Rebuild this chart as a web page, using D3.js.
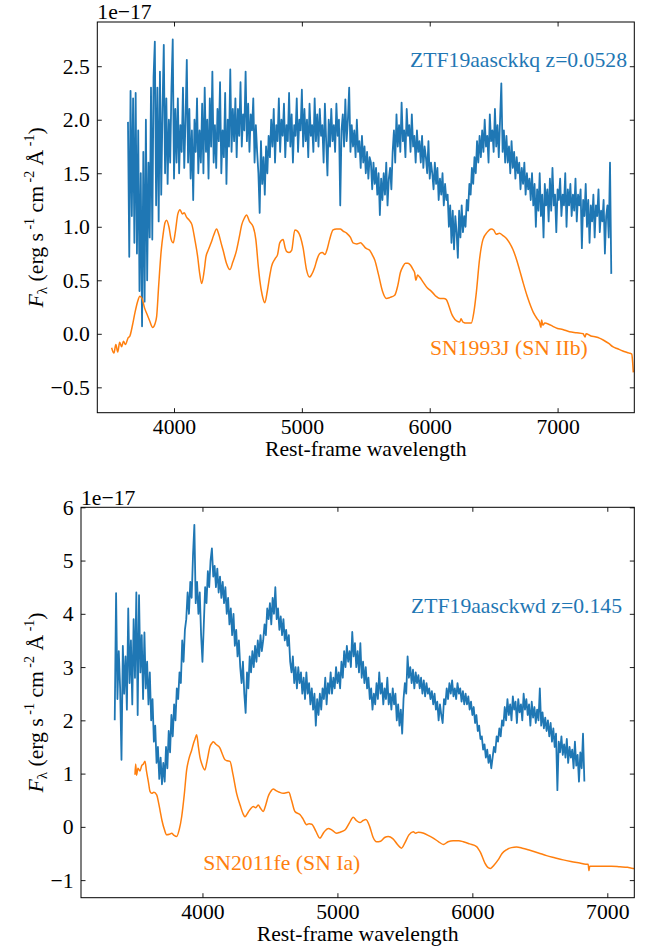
<!DOCTYPE html>
<html><head><meta charset="utf-8">
<script src="https://cdn.jsdelivr.net/npm/d3@7"></script>
<style>body{margin:0;background:#fff} svg text{font-family:"Liberation Serif","Times New Roman",serif}</style>
</head><body><svg id="c" width="652" height="952"></svg>
<script>
// ---------- DATA ----------
// Top panel: ZTF19aasckkq (blue), wavelength grid start/step
const topBlueStart = 3640, topBlueStep = 10;
const topBlueFlux = [
1.98,0.72,2.27,1.1,2.2,0.85,
2.25,0.75,1.9,0.4,1.5,0.07,1.7,0.3,2.0,0.5,
1.6,0.9,2.3,0.88,2.4,2.73,1.2,2.3,1.05,2.45,
1.3,2.1,2.70,1.5,2.2,1.4,2.0,1.6,2.3,2.75,
1.45,2.1,1.6,2.2,1.5,1.95,1.7,2.3,1.55,2.0,
2.56,1.6,2.1,1.45,1.9,1.25,2.0,1.7,2.2,1.5,
1.9,1.6,2.15,1.5,2.3,1.7,2.0,1.45,2.2,1.75,
2.45,1.6,1.95,1.55,2.1,1.8,2.35,1.5,1.9,1.65,
2.25,1.4,2.0,1.75,2.47,1.7,2.1,1.8,2.2,1.65,
2.1,1.85,2.35,1.75,2.05,1.9,2.45,1.8,2.15,1.7,
2.05,1.9,2.2,1.6,1.95,1.7,1.5,1.13,1.8,1.4,
1.65,1.3,1.75,1.5,1.85,1.65,2.0,1.75,2.1,1.6,
1.95,1.8,2.2,1.7,2.0,1.85,2.15,1.65,1.95,1.8,
2.25,1.75,2.05,1.6,1.95,1.85,2.2,1.7,2.0,1.9,
2.28,1.75,2.1,1.8,2.0,1.65,2.15,1.85,1.95,1.7,
2.2,1.8,2.05,1.75,2.1,1.85,1.95,1.6,2.15,1.8,
1.48,2.0,1.75,2.1,1.8,1.95,1.7,2.15,1.85,2.0,
1.2,1.9,2.05,1.75,2.19,1.8,2.0,2.3,1.7,1.95,
1.75,1.9,1.65,2.0,1.7,1.8,1.55,1.85,1.6,1.75,
1.5,1.7,1.45,1.65,1.6,1.35,1.6,1.4,1.55,1.3,
1.5,1.11,1.45,1.25,1.5,1.3,1.6,1.2,1.45,1.55,
1.35,1.7,1.9,1.6,2.05,1.75,1.95,1.7,2.16,1.8,
1.9,1.65,2.1,1.85,1.95,1.7,2.05,1.75,1.85,1.6,
1.9,1.7,1.8,1.6,1.85,1.55,1.75,1.65,1.5,1.8,
1.45,1.6,1.5,1.35,1.6,1.4,1.55,1.25,1.45,1.3,
1.5,1.2,1.4,1.25,1.3,1.0,1.2,0.85,1.15,0.79,
1.1,0.95,0.71,1.15,0.9,1.2,0.95,1.1,1.0,1.25,
1.15,1.4,1.3,1.55,1.4,1.65,1.5,1.8,1.6,1.85,
1.65,1.9,1.7,2.0,1.75,1.85,1.6,2.05,1.8,1.9,
1.7,2.1,1.75,1.95,1.65,2.0,2.34,1.7,1.9,1.6,
1.85,1.6,1.75,1.5,1.8,1.55,1.7,1.45,1.65,1.5,
1.6,1.35,1.55,1.4,1.6,1.3,1.5,1.35,1.45,1.25,
1.5,1.2,1.4,1.0,1.35,1.15,1.5,1.1,1.3,0.9,
1.4,1.2,1.35,1.05,1.45,1.15,1.55,1.2,1.3,0.95,
1.35,1.25,1.45,1.1,1.3,1.2,1.5,1.0,1.35,1.2,
1.4,1.1,1.3,1.15,1.45,1.05,1.3,1.2,1.35,0.8,
1.25,1.1,1.4,1.0,1.25,0.85,1.2,1.05,1.3,0.9,
1.2,1.1,1.35,0.95,1.15,1.05,1.25,0.75,1.1,1.2,
0.9,1.6,0.56];

// Top panel: SN1993J template (orange)
const topOrangeWave = [3512,3530,3545,3560,3575,3590,3605,3620,3640,3655,3675,3695,3715,3733,3750,3770,3790,3810,3833,3850,3864,3880,3900,3916,3930,3942,3960,3978,3994,4010,4030,4047,4065,4080,4098,4120,4140,4163,4185,4200,4216,4235,4250,4267,4290,4310,4333,4350,4370,4384,4410,4437,4460,4489,4510,4530,4550,4567,4590,4619,4640,4660,4671,4690,4710,4730,4750,4763,4790,4810,4827,4853,4870,4880,4900,4920,4945,4965,4990,5010,5036,5060,5075,5100,5120,5140,5160,5180,5200,5217,5244,5270,5300,5322,5350,5380,5400,5430,5460,5478,5500,5530,5550,5570,5600,5630,5661,5690,5726,5750,5770,5791,5810,5830,5850,5870,5882,5892,5905,5921,5950,5980,6000,6026,6050,6080,6110,6130,6150,6170,6182,6210,6235,6245,6260,6290,6325,6345,6364,6390,6416,6450,6481,6500,6520,6546,6570,6600,6624,6650,6680,6702,6730,6760,6780,6810,6840,6858,6870,6875,6885,6900,6930,6963,7000,7040,7093,7150,7200,7215,7223,7260,7300,7327,7360,7400,7431,7470,7510,7561,7580,7586,7592];
const topOrangeFlux = [-0.13,-0.18,-0.10,-0.17,-0.08,-0.12,-0.07,-0.10,-0.04,-0.02,0.08,0.20,0.30,0.35,0.33,0.24,0.18,0.12,0.06,0.09,0.16,0.45,0.78,0.94,1.04,1.06,1.00,0.88,0.85,0.95,1.12,1.16,1.12,1.13,1.09,1.06,1.02,0.88,0.72,0.57,0.47,0.58,0.72,0.78,0.85,0.92,0.98,0.93,0.84,0.78,0.66,0.60,0.67,0.78,0.90,1.02,1.08,1.11,1.05,1.00,0.88,0.62,0.50,0.36,0.29,0.40,0.55,0.63,0.70,0.74,0.85,0.88,0.80,0.77,0.76,0.78,0.97,0.96,0.90,0.80,0.60,0.53,0.55,0.62,0.70,0.75,0.76,0.74,0.80,0.88,0.97,0.98,0.98,0.96,0.94,0.90,0.85,0.84,0.85,0.83,0.80,0.78,0.74,0.69,0.55,0.40,0.33,0.34,0.36,0.45,0.57,0.63,0.66,0.66,0.64,0.60,0.57,0.50,0.55,0.53,0.48,0.43,0.41,0.38,0.35,0.33,0.33,0.32,0.26,0.19,0.16,0.12,0.11,0.14,0.11,0.10,0.10,0.20,0.38,0.70,0.88,0.95,0.98,0.97,0.93,0.94,0.92,0.89,0.85,0.79,0.69,0.60,0.48,0.36,0.29,0.20,0.14,0.11,0.06,0.13,0.08,0.10,0.09,0.07,0.05,0.04,0.02,0.01,0.00,-0.03,0.00,-0.02,-0.03,-0.04,-0.06,-0.09,-0.12,-0.14,-0.16,-0.18,-0.19,-0.25,-0.36];

// Bottom panel: ZTF19aasckwd (blue)
const botBlueStart = 3350, botBlueStep = 10;
const botBlueFlux = [
2.0,4.39,2.4,3.3,2.6,
1.26,3.4,2.5,3.2,2.2,4.1,2.7,3.5,2.3,3.9,
2.8,4.4,2.1,4.35,2.9,3.6,2.4,3.65,2.6,3.1,
2.3,2.9,2.0,2.4,1.6,1.9,1.2,1.5,0.9,1.3,
0.8,1.2,0.85,1.5,1.1,1.8,1.4,2.1,1.7,2.3,
2.0,2.6,2.4,2.9,2.7,3.5,3.1,3.7,3.9,4.4,
4.0,4.6,4.3,5.1,5.67,4.2,4.6,4.0,4.4,3.6,
3.1,3.8,4.5,4.2,4.8,4.5,5.0,5.23,4.7,4.9,
4.5,4.85,4.4,4.7,4.3,4.6,4.2,4.5,4.0,4.3,
3.8,4.1,3.6,4.0,3.4,3.7,3.2,3.5,3.0,2.7,
3.1,2.5,2.14,2.9,2.6,3.2,2.9,3.3,3.0,3.4,
3.1,3.5,3.2,3.6,3.3,3.5,3.8,3.6,4.1,3.9,
4.2,3.8,4.3,4.0,4.5,3.9,4.1,3.7,3.95,3.6,
3.9,3.5,3.7,3.4,3.6,3.1,2.9,3.2,2.7,3.0,
2.6,3.0,2.7,2.9,2.5,2.8,2.4,2.9,2.5,2.7,
2.3,2.6,2.2,2.5,1.9,2.4,2.1,2.5,2.2,2.6,
2.4,2.8,2.3,2.7,2.5,2.9,2.5,2.8,2.6,3.0,
2.7,2.9,2.6,3.1,2.8,3.3,3.0,3.4,3.1,3.3,
3.0,3.66,3.2,3.45,3.0,3.3,2.9,3.45,2.8,3.1,
2.7,3.0,2.6,2.8,2.4,2.6,2.2,2.5,2.3,2.7,
2.4,2.9,2.5,2.7,2.3,2.6,2.4,2.8,2.3,2.5,
2.2,2.6,2.3,2.5,2.0,2.3,1.9,2.2,1.75,2.4,
2.7,2.5,3.2,2.8,3.0,2.7,2.95,2.6,2.9,2.7,
2.85,2.6,2.8,2.5,2.75,2.45,2.7,2.5,2.6,2.4,
2.55,2.3,2.5,2.2,2.35,2.0,2.3,2.1,1.95,2.4,
2.3,2.6,2.4,2.7,2.5,2.75,2.45,2.6,2.4,2.7,
2.5,2.6,2.35,2.55,2.3,2.5,2.3,2.45,2.2,2.35,
2.1,2.25,1.95,2.1,1.8,1.9,1.65,1.7,1.45,1.55,
1.3,1.45,1.2,1.35,1.1,1.3,1.5,1.4,1.7,1.6,
1.85,1.7,2.0,1.9,2.25,2.0,2.4,2.1,2.3,2.0,
2.45,2.2,2.35,1.95,2.4,2.15,2.3,2.0,2.5,2.2,
2.4,2.1,2.3,1.9,2.35,2.05,2.25,1.95,2.2,2.0,
2.6,1.9,2.15,1.85,2.05,1.8,2.0,1.7,1.95,1.6,
1.85,1.5,1.75,0.69,1.6,1.4,1.7,1.35,1.55,1.3,
1.65,1.2,1.5,1.3,1.45,1.1,1.6,1.15,1.35,0.85,
1.4,1.1,1.75,0.85];

// Bottom panel: SN2011fe template (orange)
const botOrangeWave = [3500,3505,3512,3522,3537,3550,3562,3574,3585,3599,3612,3624,3640,3661,3675,3685,3700,3718,3735,3755,3772,3790,3809,3828,3846,3865,3883,3900,3920,3935,3945,3957,3970,3982,3994,4018,4035,4056,4070,4080,4100,4130,4150,4167,4185,4204,4225,4253,4280,4300,4315,4340,4360,4376,4395,4413,4430,4450,4470,4487,4505,4524,4545,4570,4599,4620,4640,4660,4685,4722,4745,4772,4790,4810,4840,4870,4900,4932,4960,4994,5020,5056,5090,5117,5140,5167,5190,5211,5240,5265,5290,5320,5350,5377,5410,5445,5475,5500,5530,5562,5580,5600,5640,5680,5710,5750,5785,5820,5858,5900,5933,5980,6031,6060,6093,6120,6135,6160,6191,6220,6253,6290,6327,6370,6426,6490,6550,6610,6673,6730,6796,6840,6858,6864,6870,6900,6969,7030,7093,7150,7191,7200];
const botOrangeFlux = [0.98,1.18,0.97,1.10,1.05,1.15,1.18,1.23,1.05,0.85,0.66,0.63,0.65,0.60,0.45,0.32,0.12,-0.05,-0.15,-0.14,-0.12,-0.16,-0.18,-0.05,0.19,0.60,1.07,1.28,1.44,1.58,1.65,1.73,1.50,1.30,1.19,1.07,1.25,1.51,1.57,1.60,1.55,1.48,1.35,1.26,1.24,1.23,1.00,0.63,0.40,0.25,0.19,0.28,0.35,0.38,0.36,0.41,0.35,0.29,0.42,0.57,0.66,0.71,0.68,0.65,0.63,0.64,0.65,0.50,0.29,0.23,0.15,0.04,0.06,0.05,-0.08,-0.21,-0.10,-0.03,-0.06,-0.12,-0.10,-0.06,0.08,0.18,0.12,0.08,0.12,0.14,0.00,-0.20,-0.28,-0.27,-0.20,-0.18,-0.22,-0.33,-0.40,-0.30,-0.15,-0.09,-0.12,-0.10,-0.12,-0.17,-0.21,-0.28,-0.33,-0.28,-0.26,-0.26,-0.28,-0.32,-0.37,-0.48,-0.68,-0.77,-0.78,-0.72,-0.62,-0.50,-0.43,-0.39,-0.38,-0.40,-0.44,-0.49,-0.54,-0.58,-0.62,-0.65,-0.68,-0.70,-0.70,-0.82,-0.74,-0.74,-0.74,-0.74,-0.75,-0.76,-0.78,-0.78];

// Ticks and labels
const topXTicks = [4000,5000,6000,7000];
const topYTicks = [-0.5,0,0.5,1,1.5,2,2.5];
const botXTicks = [4000,5000,6000,7000];
const botYTicks = [-1,0,1,2,3,4,5,6];
const topBlueLabel = "ZTF19aasckkq z=0.0528";
const topOrangeLabel = "SN1993J (SN IIb)";
const botBlueLabel = "ZTF19aasckwd z=0.145";
const botOrangeLabel = "SN2011fe (SN Ia)";
const xLabel = "Rest-frame wavelength";
const offsetLabel = "1e\u221217";

// ---------- DRAWING ----------
const BLUE = "#1f77b4", ORANGE = "#ff7f0e";
const FS = 21.7;
const FONT = "'Liberation Serif','Times New Roman',serif";
const svg = d3.select("#c");

function drawPanel(cfg, idx) {
  const x = d3.scaleLinear().domain(cfg.xd).range([cfg.l, cfg.r]);
  const y = d3.scaleLinear().domain(cfg.yd).range([cfg.b, cfg.t]);
  const g = svg.append("g");
  const cid = "clip" + idx;
  svg.append("defs").append("clipPath").attr("id", cid)
    .append("rect").attr("x", cfg.l).attr("y", cfg.t).attr("width", cfg.r - cfg.l).attr("height", cfg.b - cfg.t);

  const blue = cfg.blueFlux.map((v, i) => [cfg.blueStart + i * cfg.blueStep, v]);
  const orange = cfg.orWave.map((w, i) => [w, cfg.orFlux[i]]);
  const lineL = d3.line().x(d => x(d[0])).y(d => y(d[1]));
  const lineS = d3.line().x(d => x(d[0])).y(d => y(d[1])).curve(d3.curveMonotoneX);
  const plot = g.append("g").attr("clip-path", `url(#${cid})`);
  plot.append("path").datum(blue).attr("d", lineL).attr("fill", "none")
    .attr("stroke", BLUE).attr("stroke-width", 1.8).attr("stroke-linejoin", "round");
  plot.append("path").datum(orange).attr("d", lineS).attr("fill", "none")
    .attr("stroke", ORANGE).attr("stroke-width", 1.5).attr("stroke-linejoin", "round");

  const styleAxis = s => {
    s.select(".domain").remove();
    s.attr("font-family", FONT).attr("font-size", FS);
    s.selectAll("text").attr("font-family", FONT).attr("font-size", FS).attr("fill", "#000");
    s.selectAll("line").attr("stroke", "#000").attr("stroke-width", 0.9);
  };
  g.append("g").attr("transform", `translate(0,${cfg.b})`)
    .call(d3.axisBottom(x).tickValues(cfg.xt).tickSize(-4.5).tickPadding(5.5).tickFormat(d3.format("d"))).call(styleAxis);
  g.append("g").attr("transform", `translate(0,${cfg.t})`)
    .call(d3.axisTop(x).tickValues(cfg.xt).tickSize(-4.5).tickFormat("")).call(styleAxis);
  g.append("g").attr("transform", `translate(${cfg.l},0)`)
    .call(d3.axisLeft(y).tickValues(cfg.yt).tickSize(-4.5).tickPadding(7.5).tickFormat(d3.format(cfg.yf))).call(styleAxis);
  g.append("g").attr("transform", `translate(${cfg.r},0)`)
    .call(d3.axisRight(y).tickValues(cfg.yt).tickSize(-4.5).tickFormat("")).call(styleAxis);

  g.append("rect").attr("x", cfg.l).attr("y", cfg.t).attr("width", cfg.r - cfg.l).attr("height", cfg.b - cfg.t)
    .attr("fill", "none").attr("stroke", "#000").attr("stroke-width", 1);

  g.append("text").attr("x", cfg.l).attr("y", cfg.t - 2.7).attr("font-size", FS).text(offsetLabel);
  g.append("text").attr("x", (cfg.l + cfg.r) / 2).attr("y", cfg.b + 43.5).attr("text-anchor", "middle")
    .attr("font-size", FS).text(xLabel);
  const yl = g.append("text").attr("transform", `translate(${cfg.ylx},${(cfg.t + cfg.b) / 2}) rotate(-90)`)
    .attr("text-anchor", "middle").attr("font-size", FS);
  yl.append("tspan").attr("font-style", "italic").text("F");
  yl.append("tspan").attr("font-size", 15).attr("dy", 4).text("\u03bb");
  yl.append("tspan").attr("dy", -4).text(" (erg s");
  yl.append("tspan").attr("font-size", 14).attr("dy", -9).text(" -1");
  yl.append("tspan").attr("dy", 9).text(" cm");
  yl.append("tspan").attr("font-size", 14).attr("dy", -9).text(" -2");
  yl.append("tspan").attr("dy", 9).text(" \u00c5");
  yl.append("tspan").attr("font-size", 14).attr("dy", -9).text(" -1");
  yl.append("tspan").attr("dy", 9).text(")");

  g.append("text").attr("x", cfg.blX).attr("y", cfg.blY).attr("text-anchor", "end")
    .attr("font-size", FS).attr("fill", BLUE).text(cfg.blText);
  g.append("text").attr("x", cfg.orX).attr("y", cfg.orY).attr("text-anchor", "start")
    .attr("font-size", FS).attr("fill", ORANGE).text(cfg.orText);
}

drawPanel({
  l: 97.3, r: 634.3, t: 22, b: 412.7,
  xd: [3400, 7600], yd: [-0.737, 2.913],
  xt: topXTicks, yt: topYTicks, yf: ".1f",
  blueStart: topBlueStart, blueStep: topBlueStep, blueFlux: topBlueFlux,
  orWave: topOrangeWave, orFlux: topOrangeFlux,
  ylx: 42.5,
  blX: 627, blY: 66.7, blText: topBlueLabel,
  orX: 430, orY: 355, orText: topOrangeLabel
}, 0);

drawPanel({
  l: 81, r: 634.3, t: 507.3, b: 897.7,
  xd: [3100, 7200], yd: [-1.33, 6],
  xt: botXTicks, yt: botYTicks, yf: "d",
  blueStart: botBlueStart, blueStep: botBlueStep, blueFlux: botBlueFlux,
  orWave: botOrangeWave, orFlux: botOrangeFlux,
  ylx: 42.5,
  blX: 622, blY: 613.3, blText: botBlueLabel,
  orX: 203.3, orY: 870, orText: botOrangeLabel
}, 1);
</script></body></html>
